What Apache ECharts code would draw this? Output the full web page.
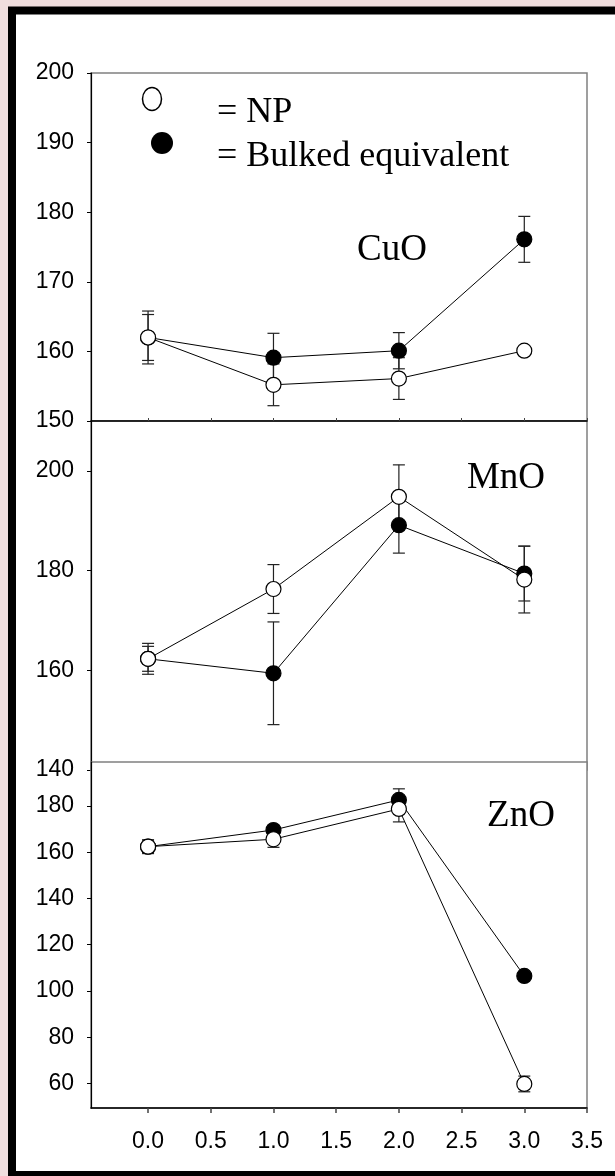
<!DOCTYPE html>
<html>
<head>
<meta charset="utf-8">
<script src="https://cdn.jsdelivr.net/npm/echarts@6/dist/echarts.min.js"></script>
<style>
html,body{margin:0;padding:0;background:#f0dede;}
#chart{width:615px;height:1176px;}
</style>
</head>
<body>
<div id="chart"></div>
<script>
// ---- data ----
const xValues = [0, 1, 2, 3];
const xTicks = [0, 0.5, 1, 1.5, 2, 2.5, 3, 3.5];

const cuoNP = [162.0, 155.2, 156.1, 160.1];
const cuoNPErr = [3.3, 3.0, 3.0, 0.5];
const cuoBulk = [162.0, 159.1, 160.1, 176.1];
const cuoBulkErr = [3.8, 3.5, 2.6, 3.3];

const mnoNP = [162.3, 176.3, 194.8, 178.2];
const mnoNPErr = [3.1, 4.9, 6.4, 6.7];
const mnoBulk = [162.3, 159.4, 189.1, 179.4];
const mnoBulkErr = [2.5, 10.3, 5.6, 5.5];

const znoNP = [162.4, 165.6, 178.7, 59.8];
const znoNPErr = [3.0, 3.5, 5.6, 3.4];
const znoBulk = [162.4, 169.6, 182.6, 106.5];
const znoBulkErr = [2.5, 2.0, 4.8, 1.5];

const cuoTicks = [150, 160, 170, 180, 190, 200];
const mnoTicks = [140, 160, 180, 200];
const znoTicks = [60, 80, 100, 120, 140, 160, 180];

const panelNames = ['CuO', 'MnO', 'ZnO'];
const legendNP = '= NP';
const legendBulk = '= Bulked equivalent';

// ---- helpers ----
const SANS = "'Liberation Sans', Arial, sans-serif";
const SERIF = "'Liberation Serif', 'Times New Roman', serif";

function pairs(vals) { return xValues.map((x, i) => [x, vals[i]]); }

function errSeries(idx, vals, errs, z) {
  return {
    type: 'custom', xAxisIndex: idx, yAxisIndex: idx, z: z, silent: true, clip: false,
    data: xValues.map((x, i) => [x, vals[i], errs[i]]),
    renderItem: function (params, api) {
      const x = api.value(0), y = api.value(1), e = api.value(2);
      const t = api.coord([x, y + e]);
      const b = api.coord([x, y - e]);
      const cw = 6;
      const st = { stroke: '#222', lineWidth: 1.2 };
      return { type: 'group', children: [
        { type: 'line', shape: { x1: t[0], y1: t[1], x2: b[0], y2: b[1] }, style: st },
        { type: 'line', shape: { x1: t[0] - cw, y1: t[1], x2: t[0] + cw, y2: t[1] }, style: st },
        { type: 'line', shape: { x1: b[0] - cw, y1: b[1], x2: b[0] + cw, y2: b[1] }, style: st }
      ]};
    }
  };
}

function lineSeries(idx, vals, filled, z) {
  return {
    type: 'line', xAxisIndex: idx, yAxisIndex: idx, z: z,
    data: pairs(vals), symbol: 'circle', symbolSize: 15, silent: true,
    lineStyle: { color: '#000', width: 1 },
    itemStyle: { color: filled ? '#000' : '#fff', borderColor: '#000', borderWidth: 1.2, opacity: 1 },
    animation: false
  };
}

const gridBase = { left: 91, width: 496, show: true, backgroundColor: '#fff', borderColor: '#808080', borderWidth: 1.5 };

function xAxis(idx, opts) {
  return Object.assign({
    type: 'value', gridIndex: idx, min: -0.455, max: 3.5,
    splitLine: { show: false },
    axisLine: { show: true, onZero: false, lineStyle: { color: '#000', width: 1.5 } },
    axisTick: { show: true, inside: true, length: 3, customValues: xTicks, lineStyle: { color: '#444' } },
    axisLabel: { show: false, customValues: xTicks }
  }, opts || {});
}

function yAxis(idx, min, max, ticks, opts) {
  return Object.assign({
    type: 'value', gridIndex: idx, min: min, max: max,
    splitLine: { show: false },
    axisLine: { show: true, onZero: false, lineStyle: { color: '#000', width: 1.2 } },
    axisTick: { show: true, inside: false, length: 4, customValues: ticks, lineStyle: { color: '#000' } },
    axisLabel: { show: true, customValues: ticks, fontFamily: SANS, fontSize: 23, color: '#000', margin: 17 }
  }, opts || {});
}

const chart = echarts.init(document.getElementById('chart'), null, { renderer: 'canvas' });

const option = {
  animation: false,
  backgroundColor: 'transparent',
  grid: [
    Object.assign({}, gridBase, { top: 73, height: 348, z: 0 }),
    Object.assign({}, gridBase, { top: 421, height: 349, z: 0 }),
    Object.assign({}, gridBase, { top: 762, height: 346, z: 1 })
  ],
  xAxis: [
    xAxis(0),
    xAxis(1, { axisLine: { show: false, onZero: false }, axisTick: { show: false } }),
    xAxis(2, {
      z: 1,
      axisTick: { show: true, inside: false, length: 5, customValues: xTicks, lineStyle: { color: '#444', width: 1.5 } },
      axisLabel: { show: true, customValues: xTicks, fontFamily: SANS, fontSize: 23, color: '#000', margin: 22,
        formatter: v => Number(v).toFixed(1) }
    })
  ],
  yAxis: [
    yAxis(0, 150, 200, cuoTicks),
    yAxis(1, 140, 210, mnoTicks),
    yAxis(2, 49.4, 199, znoTicks, { z: 1 })
  ],
  series: [
    errSeries(0, cuoBulk, cuoBulkErr, 1),
    errSeries(0, cuoNP, cuoNPErr, 1),
    lineSeries(0, cuoBulk, true, 2),
    lineSeries(0, cuoNP, false, 3),

    errSeries(1, mnoBulk, mnoBulkErr, 1),
    errSeries(1, mnoNP, mnoNPErr, 1),
    lineSeries(1, mnoBulk, true, 2),
    lineSeries(1, mnoNP, false, 3),

    errSeries(2, znoBulk, znoBulkErr, 2),
    errSeries(2, znoNP, znoNPErr, 2),
    lineSeries(2, znoBulk, true, 3),
    lineSeries(2, znoNP, false, 4)
  ],
  graphic: [
    { type: 'rect', z: -10, silent: true, shape: { x: 12, y: 10.5, width: 620, height: 1164.5 },
      style: { fill: '#fff', stroke: '#000', lineWidth: 8 } },
    { type: 'ellipse', z: 10, shape: { cx: 152, cy: 99, rx: 9.5, ry: 11.5 },
      style: { fill: '#fff', stroke: '#000', lineWidth: 1.5 } },
    { type: 'circle', z: 10, shape: { cx: 162, cy: 143, r: 11 }, style: { fill: '#000' } },
    { type: 'text', z: 10, x: 217, y: 113, style: { text: legendNP, font: '36px ' + SERIF, fill: '#000', textVerticalAlign: 'middle' } },
    { type: 'text', z: 10, x: 217, y: 157, style: { text: legendBulk, font: '36px ' + SERIF, fill: '#000', textVerticalAlign: 'middle' } },
    { type: 'text', z: 10, x: 392, y: 250, style: { text: panelNames[0], font: '37px ' + SERIF, fill: '#000', textAlign: 'center', textVerticalAlign: 'middle' } },
    { type: 'text', z: 10, x: 506, y: 478, style: { text: panelNames[1], font: '37px ' + SERIF, fill: '#000', textAlign: 'center', textVerticalAlign: 'middle' } },
    { type: 'text', z: 10, x: 521, y: 816, style: { text: panelNames[2], font: '37px ' + SERIF, fill: '#000', textAlign: 'center', textVerticalAlign: 'middle' } }
  ]
};
chart.setOption(option);
</script>
</body>
</html>
